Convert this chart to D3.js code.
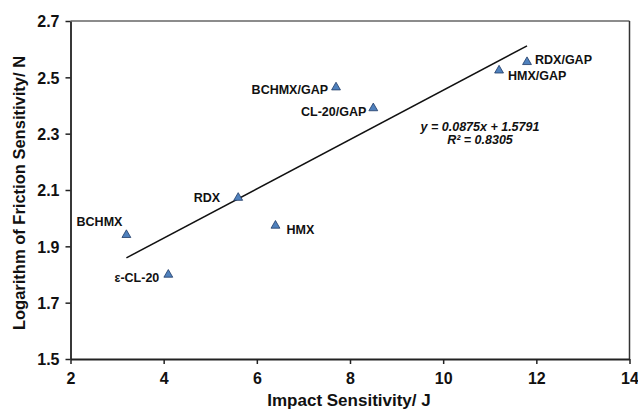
<!DOCTYPE html>
<html><head><meta charset="utf-8">
<script src="https://cdn.jsdelivr.net/npm/d3@7"></script>
<style>
html,body{margin:0;padding:0;background:#fff;}
svg text{font-family:"Liberation Sans",Arial,sans-serif;font-weight:bold;}
</style></head>
<body><svg id="c" width="638" height="411"></svg>
<script>
const names = ["BCHMX","ε-CL-20","RDX","HMX","BCHMX/GAP","CL-20/GAP","HMX/GAP","RDX/GAP"];
const impact = [3.2, 4.1, 5.6, 6.4, 7.7, 8.5, 11.2, 11.8];
const logFriction = [1.944, 1.803, 2.076, 1.977, 2.468, 2.394, 2.528, 2.558];
const xTicks = [2,4,6,8,10,12,14];
const yTicks = [1.5,1.7,1.9,2.1,2.3,2.5,2.7];
const slope = 0.0875, intercept = 1.5791, r2 = 0.8305;
const trendRange = [3.2, 11.8];

const svg = d3.select("#c");
const m = {l:70.5, r:629.5, t:21, b:359};
const x = d3.scaleLinear().domain([2,14]).range([m.l, m.r]);
const y = d3.scaleLinear().domain([1.5,2.7]).range([m.b, m.t]);

// frame
svg.append("line").attr("x1",m.l).attr("x2",m.r).attr("y1",m.t).attr("y2",m.t).attr("stroke","#666").attr("stroke-width",1.5);
svg.append("line").attr("x1",m.r).attr("x2",m.r).attr("y1",m.t).attr("y2",m.b).attr("stroke","#333").attr("stroke-width",1.5);

const xa = svg.append("g").attr("transform",`translate(0,${m.b})`)
  .call(d3.axisBottom(x).tickValues(xTicks).tickSize(5).tickSizeOuter(0).tickFormat(d3.format("d")));
const ya = svg.append("g").attr("transform",`translate(${m.l},0)`)
  .call(d3.axisLeft(y).tickValues(yTicks).tickSize(5).tickSizeOuter(0).tickFormat(d3.format(".1f")));
[xa,ya].forEach(a=>{
  a.select(".domain").attr("stroke","#222").attr("stroke-width",1.8);
  a.selectAll(".tick line").attr("stroke","#222").attr("stroke-width",1.5);
  a.selectAll("text").attr("fill","#111").style("font-size","16px").style("font-family","Liberation Sans, Arial, sans-serif").style("font-weight","bold");
});
xa.selectAll("text").attr("dy","0").attr("y",25);
ya.selectAll("text").attr("x",-11).attr("dy","0.36em");

// trendline
svg.append("line")
  .attr("x1",x(trendRange[0])).attr("y1",y(slope*trendRange[0]+intercept))
  .attr("x2",x(trendRange[1])).attr("y2",y(slope*trendRange[1]+intercept))
  .attr("stroke","#111").attr("stroke-width",1.5);

// points
const pts = names.map((n,i)=>({name:n, x:impact[i], y:logFriction[i]}));
const tri = d3.symbol().type(d3.symbolTriangle).size(34);
svg.selectAll("path.pt").data(pts).enter().append("path").attr("class","pt")
  .attr("d",tri).attr("transform",d=>`translate(${x(d.x)},${y(d.y)+1})`)
  .attr("fill","#4f81bd").attr("stroke","#1f3a66").attr("stroke-width",0.8);

// labels (placement offsets in px)
const place = {
  "BCHMX":[-4,-12,"end"], "ε-CL-20":[-9,4,"end"], "RDX":[-18,1,"end"], "HMX":[11,5,"start"],
  "BCHMX/GAP":[-8,3,"end"], "CL-20/GAP":[-7,4,"end"], "HMX/GAP":[9,6,"start"], "RDX/GAP":[8,-1,"start"]
};
svg.selectAll("text.lbl").data(pts).enter().append("text").attr("class","lbl")
  .attr("x",d=>x(d.x)+place[d.name][0]).attr("y",d=>y(d.y)+place[d.name][1])
  .attr("dy","0.35em").attr("text-anchor",d=>place[d.name][2])
  .style("font-size","12.5px").attr("fill","#111").text(d=>d.name);

// equation
svg.append("text").attr("x",480).attr("y",131).attr("text-anchor","middle")
  .style("font-size","12.5px").style("font-style","italic").attr("fill","#111")
  .text(`y = ${slope}x + ${intercept}`);
svg.append("text").attr("x",480).attr("y",144).attr("text-anchor","middle")
  .style("font-size","12.5px").style("font-style","italic").attr("fill","#111")
  .text(`R² = ${r2}`);

// axis titles
svg.append("text").attr("x",349).attr("y",406).attr("text-anchor","middle")
  .style("font-size","17px").attr("fill","#111").text("Impact Sensitivity/ J");
svg.append("text").attr("transform","translate(25,193) rotate(-90)").attr("text-anchor","middle")
  .style("font-size","16.5px").attr("fill","#111").text("Logarithm of Friction Sensitivity/ N");
</script></body></html>
